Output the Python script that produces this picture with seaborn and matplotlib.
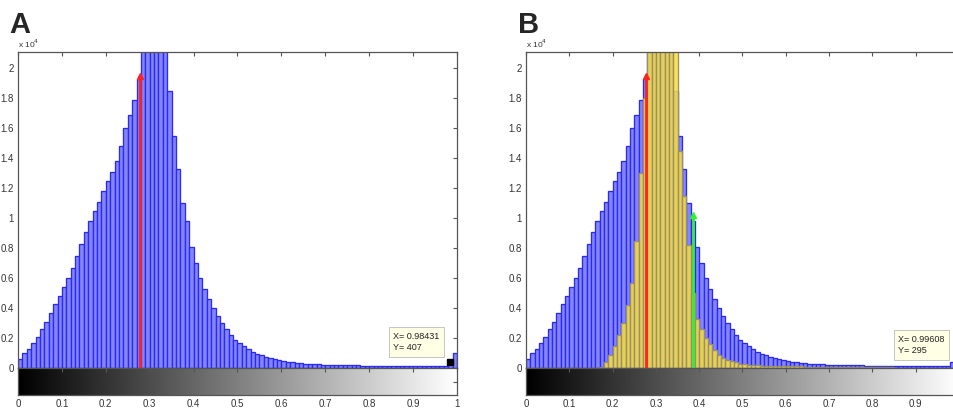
import numpy as np
import pandas as pd
import matplotlib
matplotlib.use("Agg")
import matplotlib.pyplot as plt
import seaborn as sns

sns.set_style("white")
plt.rcParams['font.family'] = ['Liberation Sans', 'DejaVu Sans']

# ---- data (heights in units of 1e4 counts, 100 bins over [0,1]) ----
bin_edges_n = 100
blue_counts = [
    0.06, 0.10, 0.13, 0.17, 0.21, 0.26, 0.31, 0.37, 0.43, 0.48,
    0.54, 0.60, 0.67, 0.75, 0.83, 0.91, 0.98, 1.05, 1.11, 1.18,
    1.25, 1.31, 1.38, 1.48, 1.60, 1.69, 1.79, 1.93, 2.15, 2.50,
    2.80, 2.90, 2.70, 2.30, 1.85, 1.55, 1.33, 1.10, 0.98, 0.81,
    0.70, 0.60, 0.53, 0.46, 0.40, 0.35, 0.30, 0.26, 0.22, 0.19,
    0.17, 0.15, 0.13, 0.11, 0.095, 0.085, 0.075, 0.065, 0.058, 0.052,
    0.047, 0.042, 0.038, 0.035, 0.032, 0.030, 0.028, 0.026, 0.024, 0.022,
    0.021, 0.020, 0.019, 0.019, 0.018, 0.018, 0.017, 0.017, 0.016, 0.016,
    0.016, 0.015, 0.015, 0.015, 0.014, 0.014, 0.014, 0.013, 0.013, 0.013,
    0.013, 0.013, 0.012, 0.012, 0.012, 0.012, 0.012, 0.012, 0.041, 0.10,
]
yellow_counts = [
    0, 0, 0, 0, 0, 0, 0, 0, 0, 0,
    0, 0, 0, 0, 0, 0, 0, 0.01, 0.04, 0.09,
    0.15, 0.22, 0.30, 0.42, 0.57, 0.85, 1.30, 1.80, 2.50, 3.0,
    3.3, 3.4, 3.2, 2.8, 2.3, 1.45, 1.15, 0.82, 0.50, 0.33,
    0.26, 0.20, 0.16, 0.12, 0.09, 0.07, 0.055, 0.045, 0.037, 0.030,
    0.025, 0.022, 0.020, 0.018, 0.016, 0.015, 0.014, 0.013, 0.012, 0.012,
    0.011, 0.011, 0.011, 0.011, 0.010, 0.010, 0.010, 0.010, 0.010, 0.010,
    0.010, 0.009, 0.009, 0.009, 0.009, 0.009, 0.009, 0.008, 0.008, 0.008,
    0.008, 0.008, 0.008, 0.008, 0.008, 0, 0, 0, 0, 0,
    0, 0, 0, 0, 0, 0, 0, 0, 0, 0,
]
red_cursor = (0.277, 1.95)
green_cursor = (0.385, 1.02)
tip_A = ("X= 0.98431", "Y= 407", 0.9843, 0.0407)
tip_B = ("X= 0.99608", "Y= 295", 0.99608, 0.0295)
x_ticks = [0, 0.1, 0.2, 0.3, 0.4, 0.5, 0.6, 0.7, 0.8, 0.9, 1]
x_tick_labels = ["0", "0.1", "0.2", "0.3", "0.4", "0.5", "0.6", "0.7", "0.8", "0.9", "1"]
y_ticks = [0, 0.2, 0.4, 0.6, 0.8, 1.0, 1.2, 1.4, 1.6, 1.8, 2.0]
y_tick_labels = ["0", "0.2", "0.4", "0.6", "0.8", "1", "1.2", "1.4", "1.6", "1.8", "2"]

centers = (np.arange(bin_edges_n) + 0.5) / bin_edges_n
df = pd.DataFrame({"intensity": centers, "blue": blue_counts, "yellow": yellow_counts})

W, H = 954, 408
fig = plt.figure(figsize=(W / 100, H / 100), dpi=100)

def fx(px):
    return px / W

def fy(py):
    return 1 - py / H

GRAY = "#555555"
TXT = "#333333"

def style_main(ax):
    ax.set_xlim(0, 1)
    ax.set_ylim(0, 2.11)
    ax.set_xticks(x_ticks)
    ax.set_xticklabels([])
    ax.set_yticks(y_ticks)
    ax.set_yticklabels(y_tick_labels)
    ax.tick_params(axis='both', direction='in', length=3, width=0.8, color=GRAY,
                   labelsize=7, labelcolor=TXT, top=True, right=True, pad=3)
    for s in ax.spines.values():
        s.set_color(GRAY)
        s.set_linewidth(0.9)
    ax.set_xlabel("")
    ax.set_ylabel("")
    ax.text(0.0, 1.006, r"x 10$^{4}$", transform=ax.transAxes, fontsize=6,
            color=TXT, ha='left', va='bottom')

def colorbar_axis(left_px, width_px, labels):
    cax = fig.add_axes([fx(left_px), fy(395), width_px / W, 27 / H])
    grad = np.linspace(0, 1, 512).reshape(1, -1)
    cax.imshow(grad, aspect='auto', cmap='gray', extent=[0, 1, 0, 1], vmin=0, vmax=1)
    cax.set_xlim(0, 1)
    cax.set_ylim(0, 1)
    cax.set_xticks(x_ticks)
    cax.set_xticklabels(labels)
    cax.set_yticks([0.5])
    cax.set_yticklabels([])
    cax.tick_params(axis='x', direction='in', length=3, width=0.8, color=GRAY,
                    labelsize=7, labelcolor=TXT, top=True, pad=3)
    cax.tick_params(axis='y', direction='in', length=3, width=0.8, color=GRAY,
                    left=False, right=True)
    for s in cax.spines.values():
        s.set_color(GRAY)
        s.set_linewidth(0.9)
    return cax

def hist(ax, col, color, edgecolor, lw, alpha):
    sns.histplot(data=df, x="intensity", weights=col, binwidth=1.0 / bin_edges_n,
                 binrange=(0, 1), ax=ax, color=color, edgecolor=edgecolor,
                 linewidth=lw, alpha=alpha, stat="count")

def cursor(ax, pos, color):
    ax.plot([pos[0], pos[0]], [0, pos[1]], color=color, lw=2.0, zorder=5)
    ax.plot([pos[0]], [pos[1]], marker='^', color=color, ms=4, zorder=6)

def datatip(ax, tip, box_xy):
    ax.text(box_xy[0], box_xy[1], tip[0] + "\n" + tip[1], transform=ax.transAxes,
            fontsize=6.5, color="#222222", ha='left', va='bottom', linespacing=1.35,
            zorder=10,
            bbox=dict(boxstyle='square,pad=0.5', fc='#ffffe6', ec='#bbbbbb', lw=0.6))

BLUE_FACE, BLUE_EDGE = "#8585ff", "#2a2af5"

# ---- Panel A ----
axA = fig.add_axes([fx(18), fy(368), 439 / W, 316 / H])
hist(axA, "blue", BLUE_FACE, BLUE_EDGE, 0.95, 1.0)
cursor(axA, red_cursor, "#ff2222")
axA.plot([tip_A[2]], [tip_A[3]], marker='s', color='black', ms=4, zorder=8)
datatip(axA, tip_A, (0.855, 0.05))
style_main(axA)
colorbar_axis(18, 439, x_tick_labels)
fig.text(fx(9), fy(39), "A", fontsize=21, fontweight='bold', ha='left', va='bottom')

# ---- Panel B ----
axB = fig.add_axes([fx(526), fy(368), 433 / W, 316 / H])
hist(axB, "blue", BLUE_FACE, BLUE_EDGE, 0.95, 1.0)
hist(axB, "yellow", "#f9df36", "#9a8f6c", 0.95, 0.85)
cursor(axB, red_cursor, "#ff2222")
cursor(axB, green_cursor, "#33ee33")
axB.plot([tip_B[2]], [tip_B[3]], marker='s', color='black', ms=4, zorder=8, clip_on=True)
datatip(axB, tip_B, (0.86, 0.04))
style_main(axB)
colorbar_axis(526, 433, x_tick_labels[:-1] + [""])
fig.text(fx(518), fy(39), "B", fontsize=21, fontweight='bold', ha='left', va='bottom')

fig.savefig("out.png", dpi=100)
